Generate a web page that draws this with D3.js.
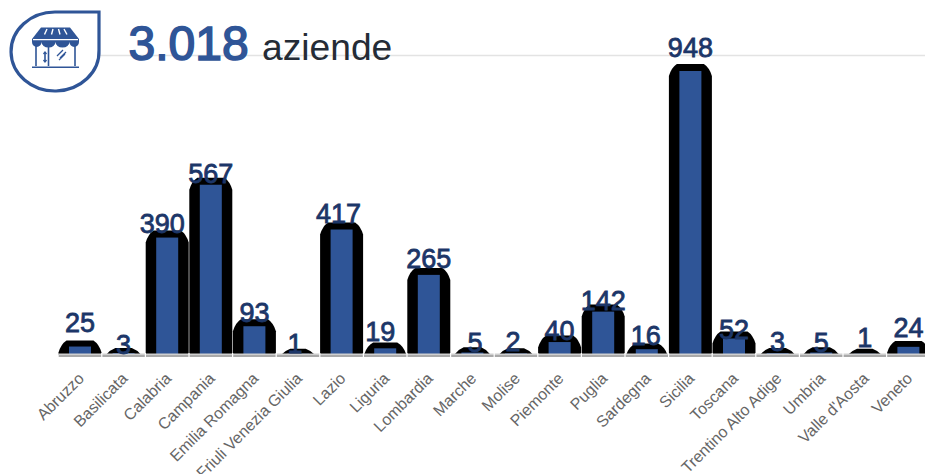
<!DOCTYPE html>
<html><head><meta charset="utf-8">
<style>html,body{margin:0;padding:0;background:#fff;overflow:hidden}svg{display:block}text{font-family:"Liberation Sans",Arial,sans-serif}</style>
<script src="https://cdn.jsdelivr.net/npm/d3@7/dist/d3.min.js"></script>
</head><body><svg id="c" width="925" height="474"></svg>
<script>
const regions=["Abruzzo","Basilicata","Calabria","Campania","Emilia Romagna","Friuli Venezia Giulia","Lazio","Liguria","Lombardia","Marche","Molise","Piemonte","Puglia","Sardegna","Sicilia","Toscana","Trentino Alto Adige","Umbria","Valle d'Aosta","Veneto"];
const companies=[25,3,390,567,93,1,417,19,265,5,2,40,142,16,948,52,3,5,1,24];
const labelLift=[14.5,-1,4.6,2,4,1,7,7,7,0.5,2,2,1.6,4,14,-0.5,2,0.5,7,10];
const labelShift=[0,0,-5,0,0,-3,-3,-5,0,2.5,-3,0,0,-1,0,0,0,0,0,0];
const totalLabel="3.018", unitLabel="aziende";

const BLUE="#2f5597",NAVY="#1c3668";
const svg=d3.select("#c");
const x=d3.scaleBand().domain(regions).range([58.2,930.2]);
const y=d3.scaleLinear().domain([0,948]).range([354,71]);
const base=y(0);

svg.append("defs").append("clipPath").attr("id","plot").append("rect").attr("x",0).attr("y",0).attr("width",925).attr("height",base);

// header rule
svg.append("line").attr("x1",100).attr("x2",925).attr("y1",55.5).attr("y2",55.5).attr("stroke","#e3e3e3").attr("stroke-width",1.5);

// icon
const ic=svg.append("g");
ic.append("path").attr("d","M99,12 V50 A44,39.5 0 1 1 55,12 Z").attr("fill","#fff").attr("stroke",BLUE).attr("stroke-width",3.2);
ic.append("path").attr("fill",BLUE).attr("d","M41,27.5 H70 L79,39 V42 H32 V39 Z");
ic.append("path").attr("fill",BLUE).attr("d","M32,42 H41.5 A4.7,5 0 0 1 32,42 Z M41.5,42 H55.5 A7,5.5 0 0 1 41.5,42 Z M55.5,42 H69.5 A7,5.5 0 0 1 55.5,42 Z M69.5,42 H79 A4.7,5 0 0 1 69.5,42 Z");
ic.append("path").attr("stroke","#fff").attr("stroke-width",1.4).attr("fill","none").attr("d","M47,29 L44.5,34.5 M53,29 L51.5,34.5 M58.5,29 L60,34.5 M64,29 L67,34.5 M33,39.6 H78");
ic.append("path").attr("stroke",BLUE).attr("stroke-width",1.6).attr("fill","none").attr("d","M36,46 V66 M75,46 V66 M48.5,47 V66 M45,53 V61 M32,67.2 H79");
ic.append("path").attr("stroke",BLUE).attr("stroke-width",1.3).attr("fill","none").attr("d","M43.5,54 L45,52 L46.5,54 M43.5,60 L45,62 L46.5,60 M57,56 L63,50 M60,58 L66,52 M59,60 L65,54");

svg.append("text").attr("x",128.5).attr("y",60).attr("font-size",48).attr("fill",BLUE).attr("stroke",BLUE).attr("stroke-width",1.6).text(totalLabel);
svg.append("text").attr("x",262).attr("y",60).attr("font-size",37.2).attr("fill","#252c36").text(unitLabel);

// outer black shapes
function outer(d,i){
  const h=base-y(companies[i]), c=x(regions[i])+x.bandwidth()/2;
  const t=Math.min(1,h/7.5), t2=Math.min(1,h/15);
  const W=19.5+2*t, F=7.5+6*t, top=y(companies[i])-(5+2*t2);
  const bot=Math.max(base,top+12);
  return `M${c-W},${bot} V${top+12} Q${c-W+2.5},${top+3.5} ${c-F},${top} H${c+F} Q${c+W-2.5},${top+3.5} ${c+W},${top+12} V${bot} Z`;
}
svg.append("g").attr("clip-path","url(#plot)").selectAll("path").data(regions).join("path").attr("d",outer).attr("fill","#000");
svg.append("g").selectAll("rect").data(regions).join("rect")
 .attr("x",d=>x(d)+x.bandwidth()/2-11).attr("width",22)
 .attr("y",(d,i)=>y(companies[i])).attr("height",(d,i)=>base-y(companies[i])).attr("fill",BLUE);

// axis
svg.append("line").attr("x1",58).attr("x2",925).attr("y1",354.3).attr("y2",354.3).attr("stroke","#cfcfcf").attr("stroke-width",1.6);
const ax=svg.append("g").attr("transform",`translate(0,355.5)`).call(d3.axisBottom(x).tickSize(0).tickPadding(0));
ax.select(".domain").attr("stroke","#555").attr("stroke-width",1.2);
ax.selectAll("text").attr("font-family",'"Liberation Sans",Arial,sans-serif').attr("font-size",16).attr("fill","#666")
  .attr("text-anchor","end").attr("dy",0).attr("y",0)
  .attr("transform","translate(5,24) rotate(-45)");
// band separators
svg.append("g").selectAll("line").data(regions.slice(1)).join("line")
 .attr("x1",d=>x(d)).attr("x2",d=>x(d)).attr("y1",353).attr("y2",357).attr("stroke","#fff").attr("stroke-width",1.2);

// value labels
svg.append("g").selectAll("text").data(companies).join("text")
 .attr("x",(d,i)=>x(regions[i])+x.bandwidth()/2+labelShift[i]).attr("y",(d,i)=>y(d)-labelLift[i])
 .attr("text-anchor","middle").attr("font-size",27).attr("fill",NAVY).attr("stroke",NAVY).attr("stroke-width",0.8).text(d=>d);
</script></body></html>
